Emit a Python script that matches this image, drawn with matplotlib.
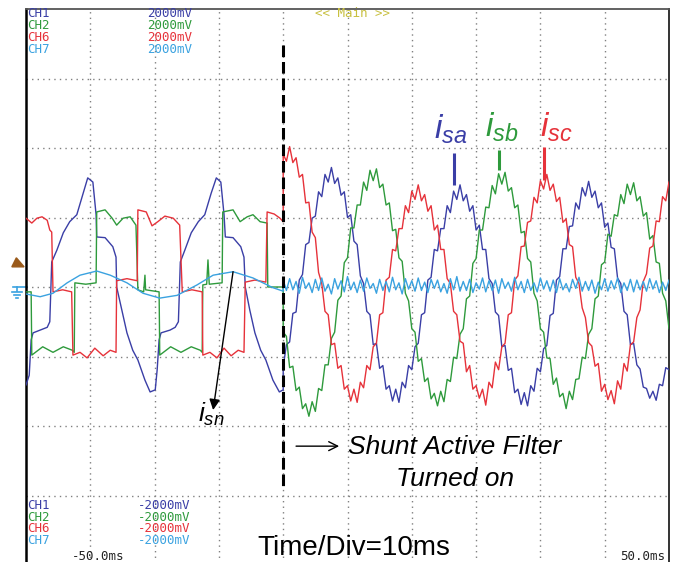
import numpy as np
import matplotlib
matplotlib.use('Agg')
import matplotlib.pyplot as plt
from matplotlib.patches import Polygon

plt.rcParams['font.family'] = ['Liberation Sans', 'DejaVu Sans']
plt.rcParams['mathtext.fontset'] = 'custom'
plt.rcParams['mathtext.it'] = 'Liberation Sans:italic'
plt.rcParams['mathtext.rm'] = 'Liberation Sans'

# time in ms, amplitude in divisions (2000mV/div)
# --- before the shunt filter turns on (load currents) ---
t_blue_pre = [-50.0, -49.5, -49.2, -48.9, -47.8, -46.7, -46.3, -46.0, -45.2, -44.2,
              -43.2, -42.1, -41.1, -40.4, -39.6, -39.1, -39.0, -37.7, -36.5, -36.0,
              -35.9, -35.1, -34.3, -33.4, -32.6, -31.5, -30.7, -29.9, -29.6, -29.3,
              -29.0, -27.6, -26.8, -26.3, -26.0, -25.3, -24.3, -23.2, -22.2, -21.2,
              -20.4, -19.7, -19.2, -19.0, -17.8, -16.6, -16.1, -15.9, -15.2, -14.4,
              -13.5, -12.7, -11.6, -10.6, -10.0]
v_blue_pre = [-1.41, -1.27, -0.76, -0.66, -0.62, -0.58, -0.50, 0.36, 0.53, 0.78,
              0.94, 1.04, 1.35, 1.57, 1.51, 1.04, 0.72, 0.71, 0.58, 0.43,
              0.0, -0.33, -0.66, -0.91, -1.05, -1.34, -1.51, -1.48, -1.19, -0.76,
              -0.66, -0.62, -0.58, -0.50, 0.36, 0.53, 0.78, 0.94, 1.04, 1.35,
              1.57, 1.51, 1.04, 0.72, 0.71, 0.58, 0.43, 0.0, -0.33, -0.66,
              -0.91, -1.05, -1.34, -1.51, -1.48]

t_green_pre = [-50.0, -49.2, -49.1, -47.4, -45.8, -44.2, -42.8, -42.5, -42.4, -40.7,
               -39.1, -39.0, -37.7, -36.6, -35.9, -34.9, -33.8, -32.9, -32.6, -31.7,
               -31.5, -31.4, -29.3, -29.2, -27.5, -25.9, -24.3, -22.9, -22.6, -22.5,
               -21.9, -21.7, -21.5, -19.5, -19.4, -17.8, -16.7, -15.6, -14.7, -13.6,
               -12.5, -12.4, -10.0]
v_green_pre = [-0.07, -0.07, -0.98, -0.86, -0.94, -0.86, -0.91, -0.94, 0.06, 0.04,
               0.06, 1.08, 1.11, 0.99, 0.89, 0.99, 1.01, 0.89, -0.04, -0.07,
               0.17, -0.04, -0.07, -0.98, -0.86, -0.94, -0.86, -0.91, -0.94, 0.03,
               0.04, 0.39, 0.04, 0.06, 1.08, 1.11, 0.94, 1.01, 1.04, 0.94,
               0.92, 0.0, 0.0]

t_red_pre = [-50.0, -49.1, -48.3, -47.5, -46.7, -46.3, -46.0, -45.8, -44.3, -42.9,
             -42.7, -41.6, -40.5, -39.3, -38.0, -36.9, -36.0, -35.9, -34.3, -32.7,
             -32.6, -31.3, -30.4, -29.5, -28.4, -27.1, -26.1, -25.7, -24.2, -22.6,
             -22.5, -21.4, -20.3, -19.2, -18.1, -17.0, -16.1, -15.9, -14.4, -12.7,
             -12.5, -11.4, -10.5, -10.0]
v_red_pre = [0.99, 0.92, 0.99, 1.01, 0.96, 0.82, 0.79, -0.07, -0.04, -0.07,
             -0.98, -0.94, -1.02, -0.88, -0.99, -0.91, -0.94, 0.09, 0.12, 0.09,
             1.11, 1.08, 0.88, 0.94, 1.02, 0.99, 0.89, -0.07, -0.04, -0.07,
             -0.98, -0.94, -1.02, -0.88, -0.99, -0.91, -0.94, 0.07, 0.10, 0.07,
             1.08, 1.05, 0.99, 0.94]

t_cyan_pre = [-50.0, -47.8, -45.8, -43.6, -41.6, -39.0, -36.9, -34.3, -31.8, -29.2,
              -26.5, -23.4, -20.9, -17.8, -14.7, -11.6, -10.0]
v_cyan_pre = [-0.10, -0.14, -0.09, 0.06, 0.17, 0.23, 0.17, 0.06, -0.09, -0.16,
              -0.12, 0.03, 0.17, 0.22, 0.13, -0.01, -0.06]

# --- after the shunt filter turns on, sampled every 0.5 ms from -10 ms to 50 ms ---
t_post = np.arange(121) * 0.5 - 10.0

v_red_post = [1.91, 1.81, 2.02, 1.79, 1.86, 1.58, 1.62, 1.21, 1.22, 0.79,
              0.71, 0.21, 0.05, -0.35, -0.40, -0.83, -0.81, -1.17, -1.13, -1.47,
              -1.42, -1.64, -1.47, -1.66, -1.37, -1.45, -1.13, -1.19, -0.86, -0.81,
              -0.40, -0.37, 0.10, 0.14, 0.54, 0.52, 0.84, 0.84, 1.17, 1.07,
              1.38, 1.26, 1.47, 1.24, 1.33, 1.09, 1.17, 0.82, 0.89, 0.54,
              0.54, 0.12, 0.05, -0.35, -0.40, -0.78, -0.81, -1.22, -1.13, -1.47,
              -1.42, -1.60, -1.47, -1.70, -1.37, -1.45, -1.08, -1.19, -0.86, -0.81,
              -0.40, -0.37, 0.10, 0.16, 0.58, 0.59, 0.93, 0.95, 1.29, 1.21,
              1.53, 1.41, 1.62, 1.39, 1.48, 1.23, 1.29, 0.93, 0.98, 0.61,
              0.58, 0.14, 0.05, -0.30, -0.44, -0.80, -0.85, -1.14, -1.10, -1.50,
              -1.40, -1.62, -1.49, -1.68, -1.35, -1.47, -1.10, -1.21, -0.83, -0.79,
              -0.44, -0.33, 0.08, 0.19, 0.56, 0.59, 0.95, 0.94, 1.30, 1.24,
              1.51]

v_blue_post = [-1.15, -0.83, -0.79, -0.38, -0.36, 0.10, 0.18, 0.61, 0.64, 0.99,
               1.02, 1.37, 1.30, 1.62, 1.51, 1.72, 1.49, 1.57, 1.32, 1.37,
               1.00, 1.04, 0.66, 0.61, 0.16, 0.05, -0.35, -0.40, -0.83, -0.81,
               -1.17, -1.13, -1.47, -1.42, -1.64, -1.47, -1.66, -1.37, -1.45, -1.13,
               -1.19, -0.86, -0.81, -0.40, -0.37, 0.10, 0.14, 0.54, 0.52, 0.84,
               0.84, 1.17, 1.07, 1.38, 1.26, 1.47, 1.24, 1.33, 1.09, 1.17,
               0.82, 0.89, 0.54, 0.54, 0.12, 0.05, -0.36, -0.41, -0.86, -0.84,
               -1.20, -1.17, -1.52, -1.47, -1.69, -1.52, -1.71, -1.42, -1.50, -1.17,
               -1.22, -0.89, -0.84, -0.41, -0.38, 0.10, 0.15, 0.55, 0.55, 0.87,
               0.88, 1.21, 1.12, 1.43, 1.31, 1.52, 1.29, 1.38, 1.14, 1.21,
               0.86, 0.92, 0.57, 0.55, 0.13, 0.05, -0.35, -0.40, -0.83, -0.81,
               -1.12, -1.18, -1.44, -1.46, -1.60, -1.50, -1.63, -1.40, -1.42, -1.16,
               -1.19]

v_green_post = [-0.65, -0.71, -1.16, -1.14, -1.49, -1.44, -1.75, -1.68, -1.86, -1.65,
                -1.79, -1.46, -1.49, -1.12, -1.12, -0.74, -0.65, -0.19, -0.13, 0.35,
                0.42, 0.85, 0.85, 1.18, 1.18, 1.51, 1.39, 1.68, 1.53, 1.70,
                1.43, 1.48, 1.18, 1.21, 0.81, 0.83, 0.42, 0.37, -0.09, -0.20,
                -0.60, -0.65, -1.07, -1.03, -1.36, -1.31, -1.61, -1.53, -1.71, -1.50,
                -1.65, -1.33, -1.36, -1.01, -1.03, -0.68, -0.60, -0.17, -0.13, 0.34,
                0.41, 0.82, 0.82, 1.15, 1.14, 1.46, 1.34, 1.63, 1.48, 1.65,
                1.38, 1.43, 1.14, 1.18, 0.78, 0.80, 0.41, 0.36, -0.09, -0.20,
                -0.60, -0.65, -1.02, -1.03, -1.40, -1.31, -1.58, -1.53, -1.75, -1.50,
                -1.62, -1.33, -1.32, -1.01, -1.03, -0.68, -0.60, -0.17, -0.13, 0.32,
                0.36, 0.76, 0.73, 1.04, 1.02, 1.33, 1.20, 1.48, 1.33, 1.50,
                1.24, 1.30, 1.02, 1.07, 0.69, 0.74, 0.36, 0.34, -0.09, -0.20,
                -0.60]

v_cyan_post = [0.10, -0.05, 0.12, -0.04, 0.08, -0.09, 0.14, -0.02, 0.06, -0.08,
               0.11, -0.05, 0.13, -0.06, 0.04, -0.10, 0.12, -0.03, 0.09, -0.07,
               0.15, -0.04, 0.07, -0.08, 0.10, -0.06, 0.13, -0.02, 0.05, -0.09,
               0.11, -0.05, 0.08, -0.07, 0.14, -0.04, 0.06, -0.10, 0.12, -0.03,
               0.09, -0.06, 0.13, -0.05, 0.07, -0.08, 0.11, -0.02, 0.10, -0.07,
               0.05, -0.09, 0.12, -0.04, 0.15, -0.06, 0.08, -0.05, 0.11, -0.08,
               0.06, -0.03, 0.13, -0.07, 0.09, -0.05, 0.10, -0.09, 0.12, -0.02,
               0.07, -0.06, 0.14, -0.04, 0.08, -0.08, 0.11, -0.05, 0.06, -0.07,
               0.13, -0.03, 0.09, -0.06, 0.10, -0.08, 0.12, -0.04, 0.05, -0.07,
               0.11, -0.02, 0.14, -0.06, 0.08, -0.05, 0.10, -0.09, 0.07, -0.04,
               0.12, -0.06, 0.09, -0.03, 0.13, -0.08, 0.06, -0.05, 0.11, -0.07,
               0.10, -0.04, 0.08, -0.06, 0.12, -0.03, 0.09, -0.08, 0.07, -0.05,
               0.10]

channels = ['CH1', 'CH2', 'CH6', 'CH7']
scale_top = ['2000mV', '2000mV', '2000mV', '2000mV']
scale_bottom = ['-2000mV', '-2000mV', '-2000mV', '-2000mV']
t_switch = -10.0

c_blue = '#3a3ea6'
c_green = '#2e9a3c'
c_red = '#e6323a'
c_cyan = '#3aa2e0'
ch_colors = [c_blue, c_green, c_red, c_cyan]

fig = plt.figure(figsize=(6.81, 5.62), dpi=100)
ax = fig.add_axes([26 / 681, -3 / 562, 643 / 681, 556 / 562])
ax.set_xlim(-50, 50)
ax.set_ylim(-4, 4)

# oscilloscope graticule
ax.set_xticks(np.arange(-40, 50, 10))
ax.set_yticks(np.arange(-3, 4, 1))
ax.grid(True, color='#808080', linestyle=(0, (1, 3)), linewidth=1.0)
ax.tick_params(length=0, labelbottom=False, labelleft=False)
ax.spines['left'].set(color='black', linewidth=1.8)
ax.spines['right'].set(color='#333333', linewidth=1.4)
ax.spines['top'].set(color='#555555', linewidth=1.3)
ax.spines['bottom'].set_visible(False)

# traces
ax.plot(t_blue_pre + list(t_post), v_blue_pre + v_blue_post, color=c_blue, lw=1.0, zorder=3)
ax.plot(t_green_pre + list(t_post), v_green_pre + v_green_post, color=c_green, lw=1.0, zorder=3.1)
ax.plot(t_red_pre + list(t_post), v_red_pre + v_red_post, color=c_red, lw=1.0, zorder=3.2)
ax.plot(t_cyan_pre + list(t_post), v_cyan_pre + v_cyan_post, color=c_cyan, lw=1.0, zorder=3.3)

# filter switch-on line
ax.plot([t_switch, t_switch], [3.48, -2.92], color='black', lw=2.2,
        linestyle=(0, (3.8, 1.6)), zorder=4)

# header / footer readouts
mono = 'DejaVu Sans Mono'
rows_top = [3.93, 3.76, 3.59, 3.42]
rows_bot = [-3.14, -3.31, -3.48, -3.65]
for name, top, bot, col, yt, yb in zip(channels, scale_top, scale_bottom, ch_colors, rows_top, rows_bot):
    ax.text(-49.8, yt, name, color=col, family=mono, fontsize=9, va='center', zorder=5)
    ax.text(-31.2, yt, top, color=col, family=mono, fontsize=9, va='center', zorder=5)
    ax.text(-49.8, yb, name, color=col, family=mono, fontsize=9, va='center', zorder=5)
    ax.text(-32.6, yb, bot, color=col, family=mono, fontsize=9, va='center', zorder=5)
ax.text(-5.1, 3.93, '<< Main >>', color='#c8c040', family=mono, fontsize=9, va='center', zorder=5)
ax.text(-42.8, -3.88, '-50.0ms', color='#222222', family=mono, fontsize=9, va='center', zorder=5)
ax.text(49.4, -3.88, '50.0ms', color='#222222', family=mono, fontsize=9, va='center', ha='right', zorder=5)

# phase current labels
ax.text(13.5, 2.14, r'$i_{sa}$', color=c_blue, fontsize=24, ha='left', va='baseline', zorder=5)
ax.text(21.4, 2.16, r'$i_{sb}$', color=c_green, fontsize=24, ha='left', va='baseline', zorder=5)
ax.text(29.9, 2.16, r'$i_{sc}$', color=c_red, fontsize=24, ha='left', va='baseline', zorder=5)
ax.plot([16.56, 16.56], [1.93, 1.47], color=c_blue, lw=2.2, solid_capstyle='butt', zorder=5)
ax.plot([23.56, 23.56], [1.97, 1.68], color=c_green, lw=2.2, solid_capstyle='butt', zorder=5)
ax.plot([30.56, 30.56], [2.01, 1.54], color=c_red, lw=2.2, solid_capstyle='butt', zorder=5)

# neutral current label
ax.annotate('', xy=(-20.9, -1.77), xytext=(-17.8, 0.22),
            arrowprops=dict(arrowstyle='-|>', color='black', lw=1.0,
                            mutation_scale=16, shrinkA=0, shrinkB=0), zorder=5)
ax.text(-23.3, -1.94, r'$i_{sn}$', color='black', fontsize=19, ha='left', va='baseline', zorder=5)

# filter annotation
ax.annotate('', xy=(-1.3, -2.29), xytext=(-8.0, -2.29),
            arrowprops=dict(arrowstyle='->', color='black', lw=1.0,
                            mutation_scale=16, shrinkA=0, shrinkB=0), zorder=5)
ax.text(0.05, -2.40, 'Shunt Active Filter', style='italic', fontsize=19,
        ha='left', va='baseline', zorder=5)
ax.text(7.6, -2.86, 'Turned on', style='italic', fontsize=19,
        ha='left', va='baseline', zorder=5)
ax.text(1.0, -3.86, 'Time/Div=10ms', fontsize=20, ha='center', va='baseline', zorder=5)

# trigger level and ground markers on the left edge
ax.add_patch(Polygon([(-52.2, 0.29), (-50.3, 0.29), (-51.5, 0.42)], closed=True,
                     color='#9a5a1a', clip_on=False, zorder=5))
ax.plot([-52.0, -49.8], [0.0, 0.0], color=c_cyan, lw=1.2, clip_on=False)
ax.plot([-51.4, -51.4], [0.0, -0.06], color=c_cyan, lw=1.2, clip_on=False)
ax.plot([-52.2, -50.6], [-0.07, -0.07], color=c_cyan, lw=1.2, clip_on=False)
ax.plot([-51.9, -50.9], [-0.115, -0.115], color=c_cyan, lw=1.2, clip_on=False)
ax.plot([-51.55, -51.2], [-0.16, -0.16], color=c_cyan, lw=1.2, clip_on=False)

fig.savefig('out.png', dpi=100)
